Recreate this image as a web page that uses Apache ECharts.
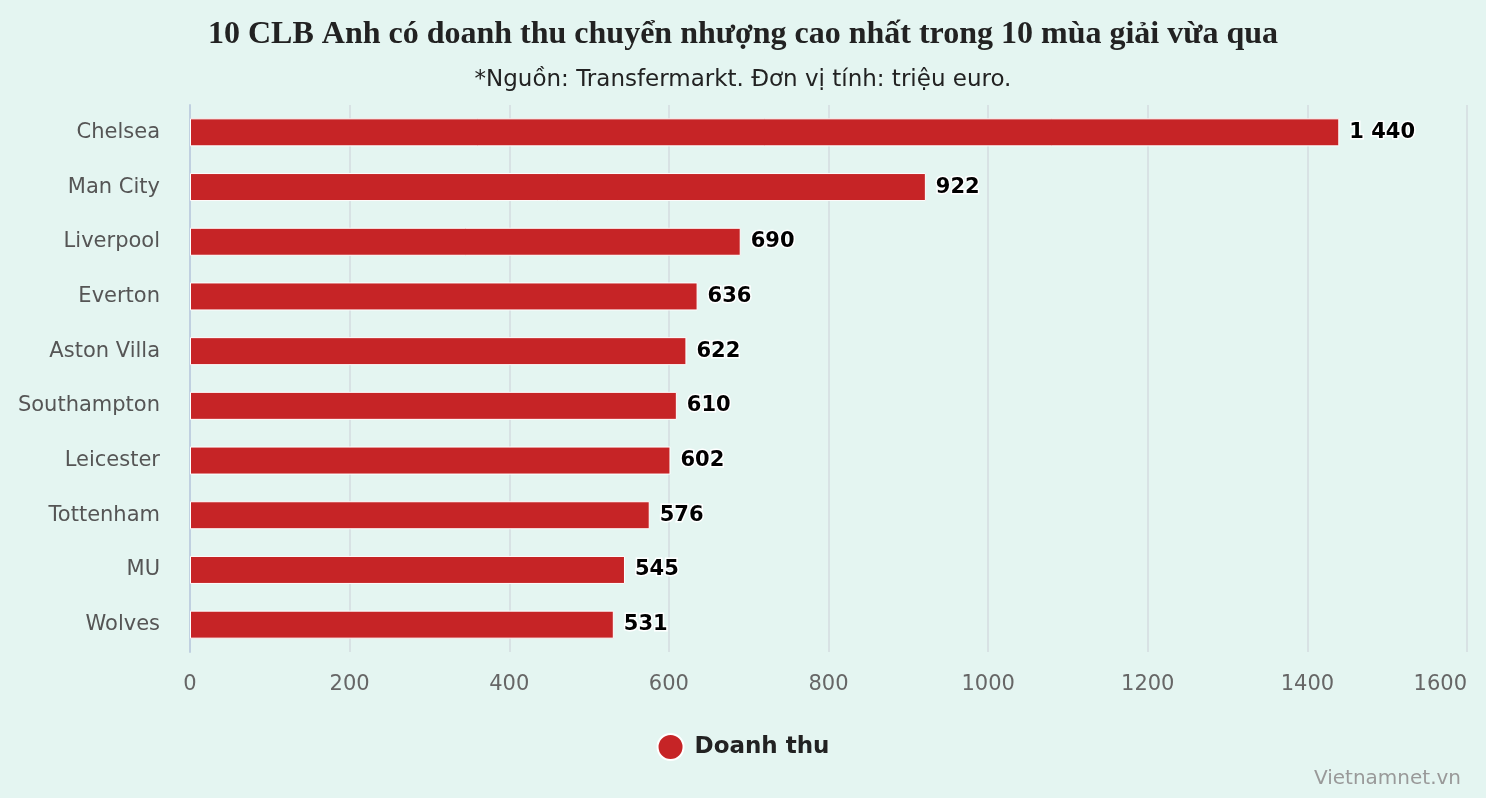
<!DOCTYPE html>
<html><head><meta charset="utf-8">
<script src="https://cdn.jsdelivr.net/npm/echarts@6/dist/echarts.min.js"></script>
<style>html,body{margin:0;padding:0;background:#e4f5f1;overflow:hidden;}#c{width:1486px;height:798px;}</style>
</head><body><div id="c"></div>
<script>
const categories = ["Chelsea","Man City","Liverpool","Everton","Aston Villa","Southampton","Leicester","Tottenham","MU","Wolves"];
const revenue = [1440,922,690,636,622,610,602,576,545,531];
const seriesName = "Doanh thu";
const chart = echarts.init(document.getElementById('c'));
chart.setOption({
  backgroundColor:'#e4f5f1',
  title:[{text:'10 CLB Anh có doanh thu chuyển nhượng cao nhất trong 10 mùa giải vừa qua',left:'center',top:14,
    textStyle:{fontFamily:'Liberation Serif',fontWeight:'bold',fontSize:32,color:'#222'}},
    {text:'*Nguồn: Transfermarkt. Đơn vị tính: triệu euro.',left:'center',top:64,
    textStyle:{fontFamily:'DejaVu Sans',fontWeight:'normal',fontSize:23,color:'#222'}},
    {text:'Vietnamnet.vn',right:20,bottom:4,textStyle:{fontFamily:'DejaVu Sans',fontWeight:'normal',fontSize:20,color:'#999'}}],
  legend:{bottom:32,left:'center',icon:'circle',itemWidth:26,itemHeight:26,itemGap:10,
    textStyle:{fontFamily:'DejaVu Sans',fontWeight:'bold',fontSize:23,color:'#222',padding:[0,0,0,6]}},
  grid:{left:190,right:19,top:105,bottom:146,containLabel:false,outerBoundsMode:'none'},
  xAxis:{type:'value',min:0,max:1600,interval:200,
    axisLabel:{fontFamily:'DejaVu Sans',fontSize:21,color:'#666',margin:22,alignMaxLabel:'right',formatter:v=>String(v)},
    splitLine:{lineStyle:{color:'#d8e2e4',width:2}},axisLine:{show:false},axisTick:{show:false}},
  yAxis:{type:'category',data:categories,inverse:true,
    axisLabel:{fontFamily:'DejaVu Sans',fontSize:21,color:'#555',margin:30},
    axisLine:{lineStyle:{color:'#c0d0e0',width:2}},axisTick:{show:false}},
  series:[{name:seriesName,type:'bar',data:revenue,barWidth:28,
    itemStyle:{color:'#c62426',borderColor:'#fff',borderWidth:1},
    label:{show:true,position:'right',distance:10,fontFamily:'DejaVu Sans',fontWeight:'bold',fontSize:21,color:'#000',
      textBorderColor:'#fff',textBorderWidth:3,
      formatter:p=>String(p.value).replace(/\B(?=(\d{3})+(?!\d))/g,' ')}}]
});
</script></body></html>
